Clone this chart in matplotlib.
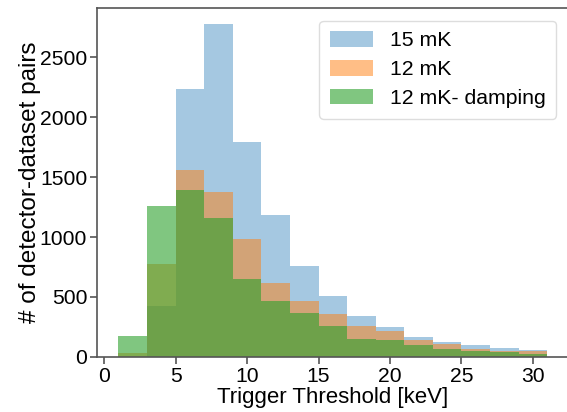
import numpy as np
import matplotlib
matplotlib.use("Agg")
import matplotlib.pyplot as plt

plt.rcParams['font.family'] = ['Liberation Sans', 'DejaVu Sans']

bin_edges = [1, 3, 5, 7, 9, 11, 13, 15, 17, 19, 21, 23, 25, 27, 29, 31]
labels = ["15 mK", "12 mK", "12 mK- damping"]
counts_15mK = [0, 424, 2234, 2775, 1796, 1184, 762, 510, 343, 251, 168, 120, 101, 73, 59]
counts_12mK = [33, 776, 1558, 1379, 986, 615, 466, 356, 260, 218, 140, 109, 62, 48, 45]
counts_12mK_damp = [173, 1262, 1396, 1162, 653, 466, 369, 254, 151, 140, 95, 64, 45, 37, 23]
colors = ["#1f77b4", "#ff7f0e", "#2ca02c"]
alphas = [0.4, 0.5, 0.6]

fig = plt.figure(figsize=(5.67, 4.12), dpi=100)
ax = fig.add_axes([0.171, 0.134, 0.832, 0.847])

edges = np.array(bin_edges, dtype=float)
centers = (edges[:-1] + edges[1:]) / 2
for cnt, lab, col, a in zip([counts_15mK, counts_12mK, counts_12mK_damp], labels, colors, alphas):
    ax.hist(centers, bins=edges, weights=cnt, histtype='stepfilled', color=col, alpha=a, label=lab)

ax.set_xticks([0, 5, 10, 15, 20, 25, 30])
ax.set_yticks([0, 500, 1000, 1500, 2000, 2500])
ax.set_xlabel("Trigger Threshold [keV]", fontsize=16, labelpad=1)
ax.set_ylabel("# of detector-dataset pairs", fontsize=17.5, labelpad=-1)
ax.tick_params(axis='both', labelsize=15.2, color='#555555', length=5, width=1.2, pad=2)
for s in ax.spines.values():
    s.set_color('#555555')
    s.set_linewidth(1.2)
leg = ax.legend(loc='upper right', fontsize=15.3, handlelength=2.0, handleheight=0.75,
                framealpha=1, edgecolor='#dddddd', borderaxespad=0.6, borderpad=0.5,
                labelspacing=0.45)

fig.savefig("out.png", dpi=100)
